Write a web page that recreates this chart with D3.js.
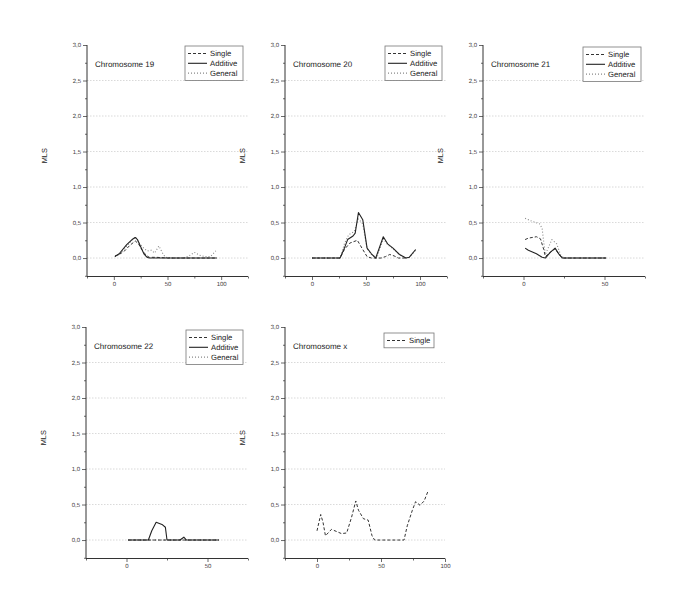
<!DOCTYPE html>
<html><head><meta charset="utf-8">
<script src="https://cdn.jsdelivr.net/npm/d3@7"></script>
<style>body{margin:0;background:#fff} text{text-rendering:geometricPrecision}</style>
</head><body>
<svg id="c" width="685" height="614"></svg>
<script>
// ---- data ----
const seriesNames = ["Single", "Additive", "General"];
const yTickValues = [0, 0.5, 1, 1.5, 2, 2.5, 3];
const yTickLabels = ["0,0", "0,5", "1,0", "1,5", "2,0", "2,5", "3,0"];
const yLabel = "MLS";

const chr19SinglePos = [1, 5, 10, 15, 20, 23, 26, 30, 33, 40, 50, 60, 70, 80, 90, 96];
const chr19SingleVal = [0.03, 0.05, 0.1, 0.18, 0.24, 0.2, 0.12, 0.04, 0.01, 0.01, 0, 0, 0, 0, 0, 0];
const chr19AdditivePos = [1, 5, 12, 17, 20, 22, 25, 28, 31, 33, 40, 50, 60, 70, 80, 90, 96];
const chr19AdditiveVal = [0.02, 0.06, 0.19, 0.26, 0.29, 0.26, 0.16, 0.06, 0.01, 0, 0, 0, 0, 0, 0, 0, 0];
const chr19GeneralPos = [1, 5, 10, 15, 20, 23, 27, 31, 35, 38, 42, 45, 48, 55, 65, 70, 75, 80, 85, 90, 95];
const chr19GeneralVal = [0.02, 0.05, 0.13, 0.22, 0.3, 0.22, 0.15, 0.1, 0.11, 0.07, 0.17, 0.08, 0.01, 0, 0, 0.03, 0.08, 0.04, 0.02, 0.02, 0.1];

const chr20SinglePos = [0, 10, 20, 26, 30, 35, 42, 47, 51, 55, 64, 68, 72, 76, 80, 88];
const chr20SingleVal = [0, 0, 0, 0, 0.12, 0.21, 0.25, 0.12, 0.02, 0, 0, 0.02, 0.05, 0.03, 0, 0];
const chr20AdditivePos = [0, 10, 20, 26, 30, 33, 38, 40, 43, 47, 51, 55, 59, 66, 70, 75, 81, 87, 90, 96];
const chr20AdditiveVal = [0, 0, 0, 0, 0.14, 0.26, 0.31, 0.35, 0.64, 0.54, 0.14, 0.06, 0, 0.3, 0.2, 0.14, 0.05, 0, 0.01, 0.12];
const chr20GeneralPos = [0, 10, 20, 26, 30, 34, 39, 43, 47, 51, 55, 60, 66, 70, 75, 81, 87, 90, 96];
const chr20GeneralVal = [0, 0, 0, 0, 0.2, 0.33, 0.37, 0.55, 0.48, 0.13, 0.05, 0, 0.27, 0.19, 0.13, 0.05, 0, 0.01, 0.11];

const chr21SinglePos = [1, 3, 8, 10.5, 12.5, 13.5, 16.5, 19.5, 22, 24, 30, 40, 51];
const chr21SingleVal = [0.26, 0.28, 0.3, 0.27, 0.12, 0.02, 0.08, 0.13, 0.05, 0, 0, 0, 0];
const chr21AdditivePos = [1, 3, 8, 11.5, 13.5, 16.5, 19.5, 22, 24, 30, 40, 51];
const chr21AdditiveVal = [0.14, 0.11, 0.06, 0.01, 0, 0.08, 0.14, 0.05, 0, 0, 0, 0];
const chr21GeneralPos = [1, 5, 10, 11.5, 12.5, 13.5, 17.5, 20.5, 23, 25, 30, 40, 51];
const chr21GeneralVal = [0.56, 0.52, 0.48, 0.42, 0.22, 0.05, 0.26, 0.2, 0.04, 0, 0, 0, 0];

const chr22SinglePos = [1, 10, 20, 30, 40, 57];
const chr22SingleVal = [0, 0, 0, 0, 0, 0];
const chr22AdditivePos = [1, 10, 13.5, 15.6, 18.3, 21.9, 24, 25, 30, 33, 35.4, 37, 45, 57];
const chr22AdditiveVal = [0, 0, 0, 0.13, 0.25, 0.22, 0.18, 0, 0, 0, 0.04, 0, 0, 0];
const chr22GeneralPos = [1, 10, 20, 30, 40, 57];
const chr22GeneralVal = [0, 0, 0, 0, 0, 0];

const chrXSinglePos = [0, 2.9, 4.7, 6.6, 11.3, 15.3, 19.2, 23.2, 27, 30.3, 32.4, 36.3, 40, 43, 45, 55, 68, 70.5, 74.5, 77, 80.5, 83.7, 87];
const chrXSingleVal = [0.13, 0.36, 0.25, 0.06, 0.15, 0.12, 0.09, 0.1, 0.32, 0.55, 0.42, 0.3, 0.28, 0.06, 0, 0, 0, 0.2, 0.42, 0.54, 0.49, 0.55, 0.7];

const panelTitles = ["Chromosome 19", "Chromosome 20", "Chromosome 21", "Chromosome 22", "Chromosome x"];
const xDomains = [[-25, 125], [-25, 125], [-25, 75], [-25, 75], [-25, 100]];
const xMajorTicks = [[0, 50, 100], [0, 50, 100], [0, 50], [0, 50], [0, 50, 100]];

const panelSeries = [
  [[chr19SinglePos, chr19SingleVal], [chr19AdditivePos, chr19AdditiveVal], [chr19GeneralPos, chr19GeneralVal]],
  [[chr20SinglePos, chr20SingleVal], [chr20AdditivePos, chr20AdditiveVal], [chr20GeneralPos, chr20GeneralVal]],
  [[chr21SinglePos, chr21SingleVal], [chr21AdditivePos, chr21AdditiveVal], [chr21GeneralPos, chr21GeneralVal]],
  [[chr22SinglePos, chr22SingleVal], [chr22AdditivePos, chr22AdditiveVal], [chr22GeneralPos, chr22GeneralVal]],
  [[chrXSinglePos, chrXSingleVal]]
];

// ---- layout / style ----
const frames = [
  {left: 87, right: 248, top: 45, bottom: 276.5},
  {left: 285, right: 447, top: 45, bottom: 276.5},
  {left: 483, right: 645, top: 45, bottom: 276.5},
  {left: 86, right: 248, top: 327, bottom: 558.5},
  {left: 285, right: 445, top: 327, bottom: 558.5}
];
const legendBoxes = [
  {x: 185, y: 46, w: 58},
  {x: 385, y: 46, w: 57},
  {x: 583, y: 47, w: 58},
  {x: 186, y: 330, w: 57},
  {x: 384, y: 333, w: 50}
];
const styles = {
  Single: {stroke: "#333", dash: "3,2", width: 1},
  Additive: {stroke: "#222", dash: null, width: 1.1},
  General: {stroke: "#888", dash: "1,2", width: 1.1}
};
const FONT = "'Liberation Sans', Arial, sans-serif";

const svg = d3.select("#c");

panelTitles.forEach((title, i) => {
  const f = frames[i];
  const x = d3.scaleLinear().domain(xDomains[i]).range([f.left, f.right]);
  const y = d3.scaleLinear().domain([-0.26, 3]).range([f.bottom, f.top]);
  const g = svg.append("g");

  // grid
  g.selectAll("line.grid").data(yTickValues.filter(v => v < 3)).join("line")
    .attr("x1", f.left).attr("x2", f.right)
    .attr("y1", d => y(d)).attr("y2", d => y(d))
    .attr("stroke", "#cfcfcf").attr("stroke-width", 0.8).attr("stroke-dasharray", "1.5,1.5");

  // y axis
  const yAxis = d3.axisLeft(y).tickValues(yTickValues).tickSize(4).tickPadding(2)
    .tickFormat((d, k) => yTickLabels[k]);
  const ya = g.append("g").attr("transform", `translate(${f.left},0)`).call(yAxis);
  ya.select(".domain").remove();
  ya.selectAll("line").attr("stroke", "#444").attr("stroke-width", 0.8);
  ya.selectAll("text").attr("font-family", FONT).attr("font-size", 6).attr("fill", "#444");
  const yMinor = d3.axisLeft(y).tickValues([-0.25, 0.25, 0.75, 1.25, 1.75, 2.25, 2.75]).tickSize(2).tickFormat("");
  const ym = g.append("g").attr("transform", `translate(${f.left},0)`).call(yMinor);
  ym.select(".domain").remove();
  ym.selectAll("line").attr("stroke", "#444").attr("stroke-width", 0.8);
  g.append("line").attr("x1", f.left).attr("x2", f.left).attr("y1", y(3)).attr("y2", f.bottom)
    .attr("stroke", "#333").attr("stroke-width", 1);

  // x axis
  const xAxis = d3.axisBottom(x).tickValues(xMajorTicks[i]).tickSize(3.5).tickPadding(2).tickFormat(d3.format("d"));
  const xa = g.append("g").attr("transform", `translate(0,${f.bottom})`).call(xAxis);
  xa.select(".domain").remove();
  xa.selectAll("line").attr("stroke", "#444").attr("stroke-width", 0.8);
  xa.selectAll("text").attr("font-family", FONT).attr("font-size", 6).attr("fill", "#444");
  const minorX = d3.range(xDomains[i][0], xDomains[i][1] + 1, 25).filter(v => !xMajorTicks[i].includes(v));
  const xm = g.append("g").attr("transform", `translate(0,${f.bottom})`)
    .call(d3.axisBottom(x).tickValues(minorX).tickSize(2).tickFormat(""));
  xm.select(".domain").remove();
  xm.selectAll("line").attr("stroke", "#444").attr("stroke-width", 0.8);
  g.append("line").attr("x1", f.left).attr("x2", f.right).attr("y1", f.bottom).attr("y2", f.bottom)
    .attr("stroke", "#333").attr("stroke-width", 1);

  // lines (draw general first, additive last)
  const series = panelSeries[i].map((s, k) => ({name: seriesNames[k], pos: s[0], val: s[1]}));
  const order = ["General", "Single", "Additive"];
  const line = d3.line().x(d => x(d[0])).y(d => y(d[1]));
  order.forEach(name => {
    const s = series.find(q => q.name === name);
    if (!s) return;
    const st = styles[name];
    g.append("path").datum(s.pos.map((p, k) => [p, s.val[k]]))
      .attr("d", line).attr("fill", "none")
      .attr("stroke", st.stroke).attr("stroke-width", st.width)
      .attr("stroke-dasharray", st.dash).attr("stroke-linejoin", "round");
  });

  // title
  g.append("text").attr("x", f.left + 8).attr("y", f.top + 22)
    .attr("font-family", FONT).attr("font-size", 8).attr("fill", "#222").text(title);

  // MLS
  g.append("text").attr("transform", `translate(${f.left - 40},${(f.top + f.bottom) / 2 - 5}) rotate(-90)`)
    .attr("text-anchor", "middle").attr("font-family", FONT).attr("font-size", 7.4).attr("fill", "#222")
    .text(yLabel);

  // legend
  const lb = legendBoxes[i];
  const rows = series.map(s => s.name);
  const rowH = 9.8;
  const lh = rows.length * rowH + 5;
  const lg = g.append("g");
  lg.append("rect").attr("x", lb.x).attr("y", lb.y).attr("width", lb.w).attr("height", lh)
    .attr("fill", "#fff").attr("stroke", "#777").attr("stroke-width", 0.8);
  rows.forEach((name, k) => {
    const cy = lb.y + 7.5 + k * rowH;
    const st = styles[name];
    lg.append("line").attr("x1", lb.x + 3).attr("x2", lb.x + 22).attr("y1", cy).attr("y2", cy)
      .attr("stroke", st.stroke).attr("stroke-width", st.width).attr("stroke-dasharray", st.dash);
    lg.append("text").attr("x", lb.x + 25).attr("y", cy + 2.7)
      .attr("font-family", FONT).attr("font-size", 7.7).attr("fill", "#222").text(name);
  });
});
</script>
</body></html>
